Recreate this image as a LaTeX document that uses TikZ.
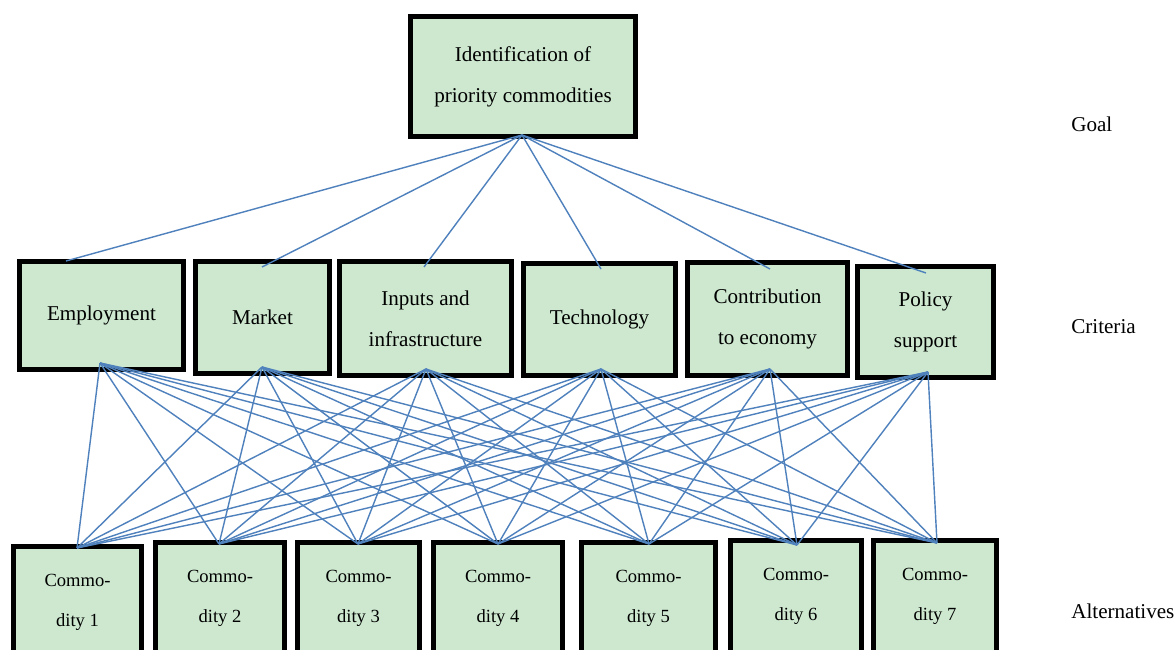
\documentclass[tikz,border=0pt]{standalone}
\usepackage{fontspec}
\setmainfont{Liberation Serif}
\usepackage{tikz}
\usetikzlibrary{positioning}
\definecolor{boxgreen}{RGB}{205,232,207}
\definecolor{linkblue}{RGB}{79,129,189}
\tikzset{
    level box/.style={
        draw=black,line width=3.6pt,
        fill=boxgreen,
        align=center,inner sep=0pt,
        font=\fontsize{15}{29}\selectfont
    },
    alt box/.style={
        level box,anchor=north,
        minimum height=2.8cm,
        font=\fontsize{13.2}{28.5}\selectfont
    },
    level label/.style={anchor=west,inner sep=0pt,font=\fontsize{15}{18}\selectfont},
    link/.style={draw=linkblue,line width=1pt}
}
\begin{document}
\begin{tikzpicture}[x=0.025cm,y=-0.025cm]
\clip (0,0) rectangle (1176,650);
\fill[white] (0,0) rectangle (1176,650);
% goal
\node[level box,minimum width=5.625cm,minimum height=3cm] (goal) at (523,76.5)
    {\raisebox{-3pt}{Identification of}\\\raisebox{-3pt}{priority commodities}};
\coordinate (goal_bot) at (522,135);
% criteria
\foreach \i/\x/\y/\w/\h/\txt in {%
    1/101.5/315.5/4.1/2.7/{Employment},
    2/262.5/317.5/3.35/2.8/{Market},
    3/425.5/318.5/4.3/2.85/{Inputs and\\infrastructure},
    4/599.5/319.5/3.8/2.8/{Technology},
    5/767.5/319/4.0/2.825/{Contribution\\to economy},
    6/925.5/322/3.4/2.775/{Policy\\support}}
    \node[level box,minimum width=\w cm,minimum height=\h cm] (crit_\i) at (\x,\y) {\txt};
% alternatives
\foreach \j/\x/\y/\w in {1/77.5/543.5/3.2,2/220/539.5/3.225,3/358.5/539.5/3.05,
    4/498/539.5/3.225,5/648.5/539.5/3.35,6/796/537.5/3.275,7/935/537.5/3.075}
    \node[alt box,minimum width=\w cm] (alt_\j) at (\x,\y) {Commo-\\dity \j};
% end points of the links
\foreach \i/\tx/\ty/\bx/\by in {1/66/261/100/363,2/262/267/262/367,3/424/267/426/369,
    4/601/269/601/369,5/770/269/770/369,6/926/273/928/372}{
    \coordinate (crit_top_\i) at (\tx,\ty);
    \coordinate (crit_bot_\i) at (\bx,\by);
}
\foreach \j/\x/\y in {1/77/548,2/219/544,3/358/544,4/498/544,5/649/544,6/797/545,7/937/543}
    \coordinate (alt_top_\j) at (\x,\y);
% links
\foreach \i in {1,...,6}
    \draw[link] (goal_bot) -- (crit_top_\i);
\foreach \i in {1,...,6}
    \foreach \j in {1,...,7}
        \draw[link] (crit_bot_\i) -- (alt_top_\j);
% level names
\node[level label] (lbl_goal) at (1071,124) {Goal};
\node[level label] (lbl_crit) at (1071,327) {Criteria};
\node[level label] (lbl_alt) at (1071,611) {Alternatives};
\end{tikzpicture}
\end{document}
